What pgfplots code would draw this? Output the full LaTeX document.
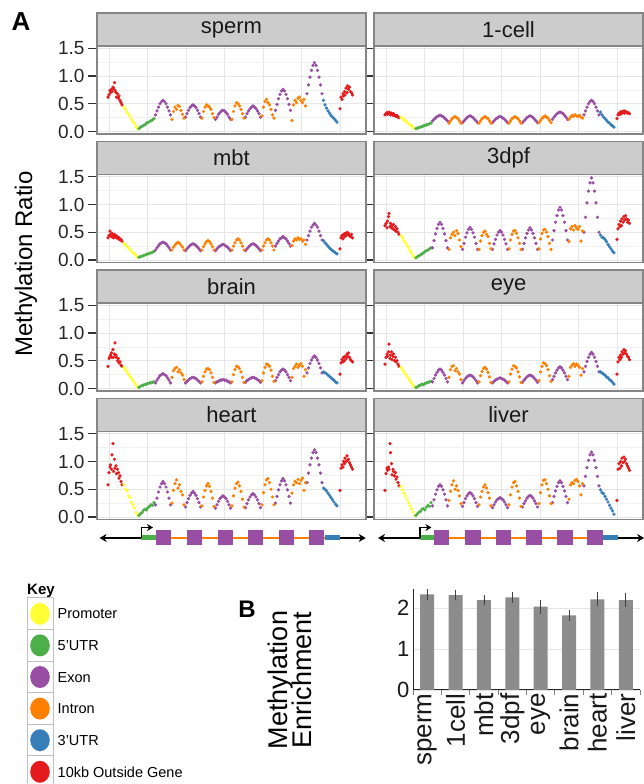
\documentclass[border=0pt]{standalone}
\usepackage{pgfplots}
\pgfplotsset{compat=1.18}
\usepackage{pgfplotstable}
\usepackage{fontspec}
\setmainfont{Liberation Sans}
\setsansfont{Liberation Sans}
\usetikzlibrary{arrows.meta,calc}

\definecolor{cR}{HTML}{E41A1C}
\definecolor{cY}{HTML}{FFFF33}
\definecolor{cG}{HTML}{4DAF4A}
\definecolor{cP}{HTML}{984EA3}
\definecolor{cO}{HTML}{FF7F00}
\definecolor{cB}{HTML}{377EB8}
\definecolor{stripc}{HTML}{CCCCCC}
\definecolor{framec}{HTML}{858585}
\definecolor{gridc}{HTML}{E6E6E6}
\definecolor{barc}{HTML}{8C8C8C}
\newcommand{\fs}[1]{\fontsize{#1}{#1}\selectfont}

% columns: sp=sperm ce=1-cell mb=mbt dp=3dpf br=brain ey=eye he=heart li=liver
\pgfplotstableread{
x sp ce mb dp br ey he li
11   0.62 0.30 0.40 0.62 0.40 0.44 0.58 0.48
12   0.66 0.32 0.44 0.66 0.54 0.56 0.80 0.78
13   0.74 0.34 0.52 0.58 0.58 0.62 0.90 0.88
13.5 0.70 0.31 0.46 0.70 0.60 0.58 0.94 0.84
14.5 0.76 0.33 0.42 0.78 0.64 0.66 0.86 0.90
15   0.72 0.35 0.48 0.84 0.56 0.80 1.12 0.86
16   0.80 0.32 0.44 0.60 0.70 0.54 1.32 1.32
16.5 0.78 0.30 0.40 0.66 0.56 0.60 0.82 1.16
17.5 0.88 0.33 0.46 0.58 0.62 0.66 1.04 0.96
18   0.74 0.31 0.42 0.62 0.82 0.52 0.88 0.76
19   0.70 0.29 0.44 0.56 0.60 0.58 0.92 0.86
19.5 0.62 0.32 0.40 0.64 0.56 0.62 0.78 0.82
20.5 0.68 0.30 0.42 0.54 0.50 0.50 0.86 0.74
21.5 0.60 0.28 0.38 0.60 0.54 0.56 0.80 0.80
22   0.64 0.27 0.40 0.52 0.46 0.48 0.70 0.68
23   0.56 0.29 0.36 0.56 0.48 0.50 0.74 0.72
24   0.52 0.26 0.37 0.50 0.42 0.44 0.64 0.62
25   0.48 0.25 0.34 0.46 0.40 0.40 0.58 0.56
}\tRedL
\pgfplotstableread{
x sp ce mb dp br ey he li
27   0.44 0.26 0.30 0.44 0.38 0.38 0.58 0.55
28.5 0.40 0.24 0.27 0.40 0.34 0.34 0.50 0.49
30   0.35 0.21 0.24 0.35 0.30 0.30 0.47 0.43
31.5 0.31 0.19 0.22 0.31 0.26 0.26 0.38 0.38
33   0.27 0.17 0.19 0.26 0.22 0.22 0.35 0.32
34.5 0.22 0.14 0.16 0.22 0.18 0.18 0.27 0.26
36   0.18 0.12 0.13 0.17 0.14 0.14 0.22 0.20
37.5 0.14 0.10 0.11 0.13 0.10 0.10 0.16 0.14
39   0.09 0.07 0.08 0.08 0.06 0.06 0.08 0.09
40.5 0.05 0.05 0.05 0.04 0.02 0.02 0.03 0.03
}\tYel
\pgfplotstableread{
x sp ce mb dp br ey he li
42   0.05 0.05 0.05 0.04 0.02 0.02 0.03 0.03
43.5 0.08 0.06 0.06 0.06 0.04 0.03 0.06 0.06
45   0.09 0.07 0.07 0.08 0.05 0.05 0.08 0.09
46.5 0.11 0.08 0.08 0.09 0.06 0.06 0.12 0.10
48   0.12 0.09 0.09 0.11 0.07 0.08 0.14 0.14
49.5 0.15 0.10 0.10 0.13 0.08 0.07 0.13 0.15
51   0.16 0.11 0.11 0.15 0.09 0.09 0.17 0.13
52.5 0.18 0.12 0.12 0.17 0.10 0.10 0.19 0.18
54   0.19 0.13 0.13 0.18 0.10 0.11 0.22 0.21
55.5 0.21 0.14 0.14 0.20 0.11 0.12 0.21 0.19
57   0.23 0.15 0.15 0.22 0.12 0.13 0.26 0.26
}\tGrn
\pgfplotstableread{
x sp ce mb dp br ey he li
58.5 0.30 0.19 0.18 0.22 0.10 0.12 0.22 0.20
60   0.37 0.22 0.22 0.35 0.15 0.18 0.34 0.31
61.5 0.44 0.24 0.26 0.47 0.19 0.24 0.45 0.41
63   0.50 0.27 0.29 0.57 0.23 0.29 0.54 0.49
64.5 0.54 0.28 0.31 0.64 0.25 0.33 0.60 0.55
66   0.56 0.29 0.32 0.68 0.27 0.35 0.64 0.58
67.5 0.54 0.28 0.31 0.64 0.25 0.33 0.60 0.55
69   0.50 0.27 0.29 0.57 0.23 0.29 0.54 0.49
70.5 0.44 0.24 0.26 0.47 0.19 0.24 0.45 0.41
72   0.37 0.22 0.22 0.35 0.15 0.18 0.34 0.31
73.5 0.30 0.19 0.18 0.22 0.10 0.12 0.22 0.20
88.5  0.26 0.16 0.17 0.19 0.10 0.10 0.18 0.19
90    0.32 0.19 0.20 0.30 0.13 0.14 0.26 0.26
91.5  0.38 0.22 0.23 0.41 0.15 0.18 0.33 0.33
93    0.43 0.25 0.26 0.49 0.18 0.21 0.39 0.38
94.5  0.46 0.27 0.28 0.55 0.19 0.23 0.43 0.42
96    0.48 0.28 0.29 0.59 0.20 0.24 0.46 0.44
97.5  0.46 0.27 0.28 0.55 0.19 0.23 0.43 0.42
99    0.43 0.25 0.26 0.49 0.18 0.21 0.39 0.38
100.5 0.38 0.22 0.23 0.41 0.15 0.18 0.33 0.33
102   0.32 0.19 0.20 0.30 0.13 0.14 0.26 0.26
103.5 0.26 0.16 0.17 0.19 0.10 0.10 0.18 0.19
118.5 0.22 0.16 0.17 0.19 0.10 0.10 0.16 0.17
120   0.26 0.19 0.20 0.29 0.12 0.13 0.22 0.22
121.5 0.31 0.22 0.23 0.37 0.13 0.15 0.28 0.27
123   0.34 0.24 0.25 0.45 0.15 0.17 0.33 0.31
124.5 0.37 0.26 0.27 0.50 0.15 0.18 0.36 0.33
126   0.38 0.27 0.28 0.53 0.16 0.19 0.38 0.35
127.5 0.37 0.26 0.27 0.50 0.15 0.18 0.36 0.33
129   0.34 0.24 0.25 0.45 0.15 0.17 0.33 0.31
130.5 0.31 0.22 0.23 0.37 0.13 0.15 0.28 0.27
132   0.26 0.19 0.20 0.29 0.12 0.13 0.22 0.22
133.5 0.22 0.16 0.17 0.19 0.10 0.10 0.16 0.17
148.5 0.26 0.16 0.17 0.19 0.11 0.11 0.17 0.18
150   0.32 0.19 0.20 0.30 0.14 0.15 0.24 0.24
151.5 0.37 0.22 0.23 0.40 0.16 0.18 0.31 0.29
153   0.41 0.25 0.26 0.48 0.18 0.21 0.36 0.34
154.5 0.44 0.27 0.28 0.54 0.19 0.23 0.40 0.37
156   0.46 0.28 0.29 0.58 0.20 0.24 0.42 0.39
157.5 0.44 0.27 0.28 0.54 0.19 0.23 0.40 0.37
159   0.41 0.25 0.26 0.48 0.18 0.21 0.36 0.34
160.5 0.37 0.22 0.23 0.40 0.16 0.18 0.31 0.29
162   0.32 0.19 0.20 0.30 0.14 0.15 0.24 0.24
163.5 0.26 0.16 0.17 0.19 0.11 0.11 0.17 0.18
178.5 0.38 0.22 0.25 0.36 0.14 0.16 0.25 0.26
180   0.49 0.26 0.30 0.53 0.20 0.22 0.37 0.37
181.5 0.59 0.29 0.34 0.68 0.25 0.28 0.49 0.47
183   0.67 0.32 0.38 0.80 0.30 0.33 0.58 0.55
184.5 0.73 0.34 0.40 0.90 0.33 0.37 0.65 0.62
186   0.76 0.35 0.42 0.95 0.35 0.39 0.69 0.65
187.5 0.73 0.34 0.40 0.90 0.33 0.37 0.65 0.62
189   0.67 0.32 0.38 0.80 0.30 0.33 0.58 0.55
190.5 0.59 0.29 0.34 0.68 0.25 0.28 0.49 0.47
192   0.49 0.26 0.30 0.53 0.20 0.22 0.37 0.37
193.5 0.38 0.22 0.25 0.36 0.14 0.16 0.25 0.26
210   0.68 0.30 0.36 0.50 0.28 0.30 0.62 0.56
211.5 0.84 0.37 0.44 0.77 0.37 0.40 0.79 0.73
213   0.98 0.44 0.52 1.03 0.45 0.49 0.94 0.89
214.5 1.10 0.50 0.59 1.24 0.51 0.56 1.06 1.02
216   1.19 0.54 0.63 1.39 0.56 0.62 1.16 1.12
217.5 1.24 0.56 0.66 1.48 0.59 0.65 1.21 1.17
219   1.19 0.54 0.63 1.39 0.56 0.62 1.16 1.12
220.5 1.10 0.50 0.59 1.24 0.51 0.56 1.06 1.02
222   0.98 0.44 0.52 1.03 0.45 0.49 0.94 0.89
223.5 0.84 0.37 0.44 0.77 0.37 0.40 0.79 0.73
225   0.68 0.30 0.36 0.50 0.28 0.30 0.62 0.56
}\tExon
\pgfplotstableread{
x sp ce mb dp br ey he li
75   0.22 0.15 0.18 0.19 0.20 0.20 0.25 0.30
76.5 0.36 0.19 0.23 0.40 0.32 0.34 0.48 0.46
78   0.44 0.23 0.27 0.46 0.36 0.40 0.60 0.58
79.5 0.40 0.25 0.30 0.50 0.38 0.41 0.67 0.65
81   0.47 0.27 0.32 0.44 0.30 0.32 0.52 0.50
82.5 0.45 0.25 0.30 0.53 0.34 0.36 0.58 0.56
84   0.38 0.23 0.27 0.48 0.28 0.30 0.46 0.48
85.5 0.31 0.19 0.23 0.36 0.24 0.26 0.40 0.38
87   0.24 0.15 0.18 0.24 0.16 0.16 0.22 0.24
105   0.24 0.15 0.18 0.19 0.12 0.12 0.20 0.22
106.5 0.36 0.19 0.24 0.34 0.22 0.23 0.36 0.36
108   0.44 0.23 0.29 0.44 0.30 0.31 0.48 0.46
109.5 0.48 0.25 0.33 0.50 0.35 0.36 0.56 0.54
111   0.46 0.27 0.35 0.52 0.36 0.38 0.60 0.58
112.5 0.44 0.25 0.33 0.46 0.34 0.35 0.55 0.52
114   0.40 0.23 0.29 0.42 0.28 0.29 0.46 0.44
115.5 0.32 0.19 0.24 0.30 0.20 0.21 0.34 0.34
117   0.25 0.15 0.18 0.20 0.11 0.11 0.19 0.20
135   0.22 0.15 0.18 0.20 0.12 0.12 0.20 0.22
136.5 0.36 0.19 0.25 0.36 0.25 0.26 0.38 0.40
138   0.46 0.23 0.31 0.46 0.34 0.35 0.52 0.54
139.5 0.52 0.25 0.36 0.52 0.40 0.41 0.60 0.62
141   0.50 0.27 0.38 0.53 0.39 0.40 0.63 0.64
142.5 0.46 0.25 0.36 0.48 0.36 0.37 0.56 0.56
144   0.40 0.23 0.31 0.40 0.30 0.30 0.46 0.46
145.5 0.32 0.19 0.25 0.30 0.20 0.21 0.32 0.34
147   0.24 0.15 0.18 0.19 0.11 0.11 0.18 0.19
165   0.28 0.16 0.18 0.20 0.14 0.14 0.22 0.24
166.5 0.44 0.20 0.25 0.38 0.28 0.30 0.44 0.44
168   0.54 0.24 0.31 0.48 0.38 0.40 0.58 0.58
169.5 0.58 0.26 0.36 0.54 0.44 0.46 0.67 0.66
171   0.52 0.28 0.38 0.55 0.43 0.45 0.69 0.67
172.5 0.48 0.26 0.36 0.50 0.40 0.41 0.62 0.60
174   0.40 0.24 0.31 0.42 0.33 0.34 0.50 0.50
175.5 0.30 0.20 0.25 0.30 0.22 0.23 0.36 0.38
177   0.24 0.16 0.18 0.19 0.13 0.13 0.22 0.24
195   0.20 0.22 0.26 0.33 0.20 0.22 0.43 0.32
196.5 0.48 0.26 0.34 0.56 0.36 0.38 0.58 0.58
198   0.56 0.29 0.38 0.60 0.40 0.42 0.64 0.62
199.5 0.52 0.27 0.36 0.54 0.44 0.45 0.62 0.60
201   0.60 0.30 0.40 0.62 0.38 0.40 0.68 0.66
202.5 0.62 0.28 0.37 0.58 0.42 0.44 0.60 0.68
204   0.56 0.27 0.38 0.55 0.45 0.42 0.66 0.64
205.5 0.52 0.29 0.34 0.60 0.40 0.38 0.70 0.56
207   0.58 0.26 0.36 0.34 0.22 0.24 0.48 0.40
208.5 0.46 0.24 0.28 0.52 0.34 0.36 0.62 0.60
}\tIntron
\pgfplotstableread{
x sp ce mb dp br ey he li
226.5 0.56 0.35 0.35 0.45 0.30 0.30 0.52 0.49
228   0.48 0.30 0.31 0.41 0.28 0.28 0.50 0.44
229.5 0.42 0.26 0.28 0.40 0.27 0.26 0.47 0.42
231   0.37 0.23 0.25 0.37 0.24 0.24 0.43 0.37
232.5 0.33 0.20 0.22 0.33 0.22 0.21 0.39 0.32
234   0.29 0.17 0.19 0.28 0.19 0.19 0.35 0.27
235.5 0.26 0.15 0.17 0.24 0.17 0.16 0.31 0.21
237   0.23 0.12 0.15 0.20 0.15 0.14 0.27 0.16
238.5 0.20 0.10 0.13 0.16 0.12 0.11 0.23 0.11
240   0.17 0.08 0.11 0.13 0.10 0.08 0.20 0.05
}\tBlue
\pgfplotstableread{
x sp ce mb dp br ey he li
243   0.41 0.23 0.20 0.37 0.26 0.26 0.48 0.30
244   0.62 0.30 0.40 0.56 0.46 0.48 0.88 0.86
245   0.58 0.33 0.44 0.64 0.52 0.56 0.94 0.96
246   0.68 0.31 0.38 0.60 0.48 0.52 0.90 0.88
246.5 0.64 0.35 0.46 0.70 0.56 0.60 1.00 1.00
247.5 0.72 0.32 0.42 0.62 0.50 0.56 0.96 0.92
248   0.66 0.36 0.48 0.74 0.58 0.66 1.06 1.06
249   0.78 0.34 0.44 0.68 0.54 0.62 1.00 0.98
250   0.70 0.37 0.50 0.78 0.62 0.70 1.10 1.08
250.5 0.82 0.33 0.46 0.72 0.58 0.64 1.02 1.00
251.5 0.76 0.36 0.48 0.80 0.64 0.68 1.04 1.04
252.5 0.80 0.35 0.44 0.74 0.56 0.62 0.98 0.96
253.5 0.72 0.33 0.42 0.68 0.52 0.58 0.94 0.92
254.5 0.70 0.34 0.46 0.72 0.50 0.56 0.90 0.88
255.5 0.66 0.32 0.40 0.66 0.48 0.52 0.86 0.84
}\tRedR

\pgfplotsset{
  facet/.style={
    scale only axis, width=269pt, height=88pt,
    xmin=0, xmax=269, ymin=-0.045, ymax=1.54,
    anchor=south west,
    axis line style={draw=framec, line width=1.3pt},
    xtick={12,50.5,89,127.5,166,204.5,243}, xticklabels={},
    xtick style={draw=none},
    ytick={0,0.5,1,1.5}, minor ytick={0.25,0.75,1.25},
    xmajorgrids, ymajorgrids, yminorgrids,
    major grid style={draw=gridc, line width=0.8pt},
    minor grid style={draw=gridc!55, line width=0.6pt},
    tick align=outside, major tick length=9pt, minor tick length=0pt,
    ytick style={draw=black!80, line width=1.2pt},
    yticklabel style={font=\fs{19}, text=black!85},
  },
  leftfacet/.style={facet, yticklabels={0.0,0.5,1.0,1.5}},
  rightfacet/.style={facet, yticklabels={}, ytick style={draw=none}},
  dots/.style={only marks, mark=*, mark size=1.45pt},
}
\newcommand{\panel}[1]{%
  \addplot[dots, cR] table[x=x,y=#1]{\tRedL};
  \addplot[dots, cY] table[x=x,y=#1]{\tYel};
  \addplot[dots, cG] table[x=x,y=#1]{\tGrn};
  \addplot[dots, cP] table[x=x,y=#1]{\tExon};
  \addplot[dots, cO] table[x=x,y=#1]{\tIntron};
  \addplot[dots, cB] table[x=x,y=#1]{\tBlue};
  \addplot[dots, cR] table[x=x,y=#1]{\tRedR};
}
\newcommand{\strip}[3]{% x-left, y-bottom, label
  \draw[fill=stripc, draw=framec, line width=1.3pt] (#1,#2) rectangle ++(269,33);
  \node[font=\fs{22}, text=black!90] at ($(#1,#2)+(134.5,16.5)$) {#3};
}

\begin{document}
\begin{tikzpicture}[x=1pt,y=1pt]
\path[use as bounding box] (0,0) rectangle (643,784);

% ---------- Panel A facets ----------
\begin{axis}[leftfacet, at={(97pt,650pt)}] \panel{sp} \end{axis}
\begin{axis}[rightfacet, at={(374pt,650pt)}] \panel{ce} \end{axis}
\begin{axis}[leftfacet, at={(97pt,521.5pt)}] \panel{mb} \end{axis}
\begin{axis}[rightfacet, at={(374pt,521.5pt)}] \panel{dp} \end{axis}
\begin{axis}[leftfacet, at={(97pt,393pt)}] \panel{br} \end{axis}
\begin{axis}[rightfacet, at={(374pt,393pt)}] \panel{ey} \end{axis}
\begin{axis}[leftfacet, at={(97pt,264.5pt)}] \panel{he} \end{axis}
\begin{axis}[rightfacet, at={(374pt,264.5pt)}] \panel{li} \end{axis}

\strip{97}{738}{sperm}
\strip{374}{738}{1-cell}
\strip{97}{609.5}{mbt}
\strip{374}{609.5}{3dpf}
\strip{97}{481}{brain}
\strip{374}{481}{eye}
\strip{97}{352.5}{heart}
\strip{374}{352.5}{liver}

\node[font=\bfseries\fs{26}] at (21,762) {A};
\node[font=\fs{24}, rotate=90] at (26,520) {Methylation Ratio};

% ---------- gene diagrams ----------
\foreach \dx in {0,278.4}{
  \begin{scope}[xshift=\dx]
  \draw[line width=1.4pt, {Stealth[length=7pt,width=8pt]}-] (99.6,246) -- (141.4,246);
  \draw[line width=1.4pt, -{Stealth[length=7pt,width=8pt]}] (340,246) -- (365.7,246);
  \draw[cO, line width=1.4pt] (155.7,246) -- (325,246);
  \fill[cG] (141.4,243.5) rectangle (155.7,248.5);
  \fill[cB] (325,243.5) rectangle (340,248.5);
  \foreach \sx in {155.7,187,217.5,248,279,309}{
    \fill[cP] (\sx,238.5) rectangle ++(15.3,15);
  }
  \draw[line width=1.4pt, -{Stealth[length=6pt,width=7pt]}] (141.4,246) -- (141.4,256.5) -- (153,256.5);
  \end{scope}
}

% ---------- Key ----------
\node[font=\bfseries\fs{15}, anchor=west, inner sep=0] at (27,193) {Key};
\foreach \i/\c/\t in {0/cY/Promoter,1/cG/5'UTR,2/cP/Exon,3/cO/Intron,4/cB/3'UTR,5/cR/10kb Outside Gene}{
  \draw[black!25, line width=1pt] (27,{186-31.6*\i}) rectangle (53,{154.4-31.6*\i});
  \fill[\c] (40,{170.2-31.6*\i}) ellipse (9.8 and 11);
  \node[font=\fs{14.5}, anchor=west, inner sep=0] at (57.5,{170-31.6*\i}) {\t};
}

% ---------- Panel B ----------
\node[font=\bfseries\fs{24}] at (247,175) {B};
\node[font=\fs{27}, rotate=90, align=center] at (290,104) {Methylation\\[-3pt]Enrichment};

\begin{axis}[at={(413pt,94pt)}, anchor=south west, scale only axis,
  width=227pt, height=100.5pt,
  xmin=-0.5, xmax=7.5, ymin=0, ymax=2.45,
  axis lines*=left, axis line style={draw=black!85, line width=1pt},
  ybar, bar width=14pt,
  xtick={0,...,7}, xticklabels={sperm,1cell,mbt,3dpf,eye,brain,heart,liver},
  xticklabel style={rotate=90, anchor=east, font=\fs{26}, text=black!90},
  minor xtick={-0.5,0.5,...,7.5},
  ytick={0,1,2}, yticklabel style={font=\fs{22}, text=black!90},
  /pgf/number format/assume math mode=true,
  ymajorgrids, major grid style={draw=gridc, line width=0.9pt},
  tick align=outside, major tick length=0pt, minor tick length=5pt,
  minor tick style={draw=black!50, line width=0.8pt},
]
\addplot[fill=barc, draw=none,
  error bars/.cd, y dir=both, y explicit,
  error bar style={black!75, line width=0.8pt},
  error mark options={black!75, mark size=2pt, line width=0.8pt}]
  coordinates {
   (0,2.33) +- (0,0.09)
   (1,2.31) +- (0,0.07)
   (2,2.19) +- (0,0.08)
   (3,2.26) +- (0,0.08)
   (4,2.03) +- (0,0.12)
   (5,1.82) +- (0,0.09)
   (6,2.21) +- (0,0.12)
   (7,2.19) +- (0,0.12)
  };
\end{axis}
\end{tikzpicture}
\end{document}
